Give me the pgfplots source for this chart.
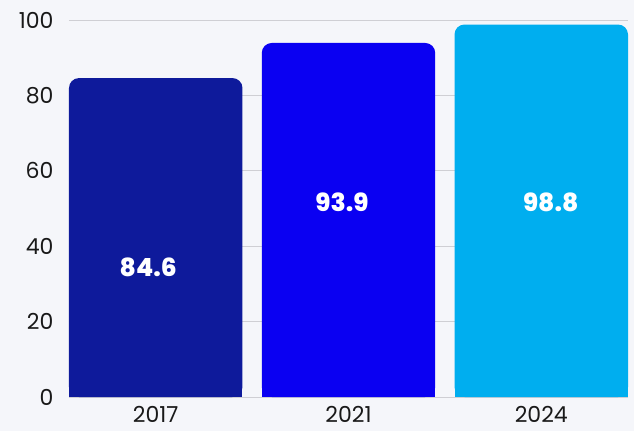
\documentclass[border=0pt]{standalone}
\usepackage{pgfplots}
\pgfplotsset{compat=1.18}
\usepackage{fontspec}
\setmainfont{Poppins}
\IfFontExistsTF{Poppins ExtraBold}
  {\newfontfamily\valfont{Poppins ExtraBold}}
  {\newfontfamily\valfont{Poppins}[UprightFont=*-Bold]}
\definecolor{bgc}{HTML}{F5F6FA}
\definecolor{gridc}{HTML}{CFCFD4}
\definecolor{cA}{HTML}{0E1A9B}
\definecolor{cB}{HTML}{0A00F2}
\definecolor{cC}{HTML}{00AEEF}
\begin{document}
\begin{tikzpicture}
\fill[bgc] (0,0) rectangle (634pt,431pt);
\path[use as bounding box] (0,0) rectangle (634pt,431pt);
\begin{axis}[
    at={(69pt,34pt)}, anchor=south west,
    scale only axis,
    width=559pt, height=377pt,
    xmin=-0.45, xmax=2.45,
    ymin=0, ymax=100,
    xtick={0,1,2},
    xticklabels={2017,2021,2024},
    ytick={0,20,...,100},
    ymajorgrids,
    grid style={gridc, line width=0.8pt},
    axis x line*=bottom,
    axis y line*=left,
    x axis line style={gridc, line width=0.8pt},
    y axis line style={draw=none},
    axis on top=false,
    major tick length=0pt,
    tick label style={font=\fontsize{22}{26}\selectfont, text=black!90},
    yticklabel style={xshift=-12pt},
    xticklabel style={yshift=-6pt},
    /pgf/number format/assume math mode=true,
    ybar, bar width=0.9, bar shift=0pt,
    clip=false,
]
% rounded bars
\addplot[fill=cA, draw=none, rounded corners=10pt] coordinates {(0,84.6)};
\addplot[fill=cB, draw=none, rounded corners=10pt] coordinates {(1,93.9)};
\addplot[fill=cC, draw=none, rounded corners=10pt] coordinates {(2,98.8)};
% square off the bottom corners
\addplot[fill=cA, draw=none] coordinates {(0,20)};
\addplot[fill=cB, draw=none] coordinates {(1,20)};
\addplot[fill=cC, draw=none] coordinates {(2,20)};
% value labels
\node[text=white, font=\fontsize{25}{28}\selectfont\valfont] at (axis cs:-0.039,34.5) {84.6};
\node[text=white, font=\fontsize{25}{28}\selectfont\valfont] at (axis cs:0.966,51.7) {93.9};
\node[text=white, font=\fontsize{25}{28}\selectfont\valfont] at (axis cs:2.049,51.7) {98.8};
\end{axis}
\end{tikzpicture}
\end{document}
